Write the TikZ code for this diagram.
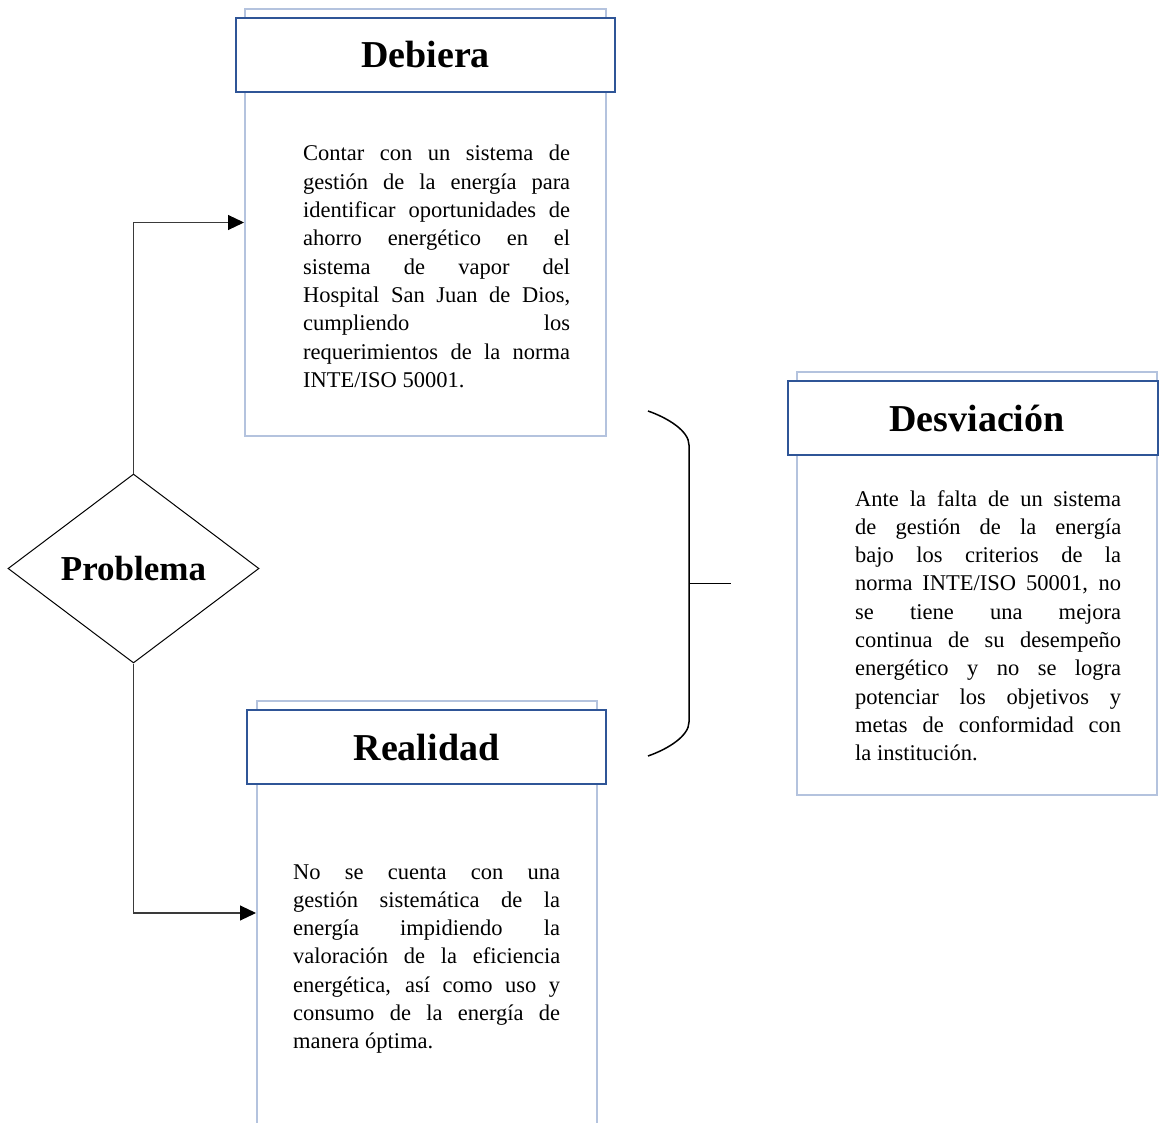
\documentclass[tikz,border=0pt]{standalone}
\usepackage{fontspec}
\setmainfont{Liberation Serif}
\usetikzlibrary{shapes.geometric,arrows.meta}

\definecolor{hdrblue}{HTML}{2F5597}
\definecolor{panelblue}{HTML}{B4C3DE}
\definecolor{linkgray}{HTML}{3A3A3A}

% one justified line of a text block
\newcommand{\jline}[1]{\makebox[\linewidth][s]{#1}\\}
\newcommand{\bodyfont}{\fontsize{22.5}{28.3}\selectfont}

\tikzset{
  panel/.style={draw=panelblue, line width=2pt, fill=white, rectangle, inner sep=0pt},
  header/.style={draw=hdrblue, line width=2.2pt, fill=white, rectangle, inner sep=0pt,
    font=\fontsize{38}{40}\selectfont\bfseries},
  bodytext/.style={anchor=base west, inner sep=0pt, font=\bodyfont},
  link/.style={draw=linkgray, line width=1.1pt,
    -{Triangle[length=16pt,width=15pt,color=black,fill=black]}},
  bracket/.style={draw=black, line width=1.5pt},
  decision/.style={draw=black, line width=1pt, diamond, inner sep=0pt,
    minimum width=251pt, minimum height=189pt, font=\fontsize{35}{37}\selectfont\bfseries},
}

\begin{document}
\begin{tikzpicture}[x=1pt, y=-1pt]
  \useasboundingbox (0,0) rectangle (1159,1123);

  % panels
  \node[panel, minimum width=361pt, minimum height=427pt] (deb) at (425.5,222.5) {};
  \node[panel, minimum width=360pt, minimum height=423pt] (desv) at (977,583.5) {};
  \node[panel, minimum width=340pt, minimum height=424pt] (rea) at (427,913) {};

  % panel headers
  \node[header, minimum width=379pt, minimum height=74pt] (debh) at (425.5,55) {Debiera};
  \node[header, minimum width=370pt, minimum height=74pt] (desvh) at (973,418) {\hspace*{8pt}Desviación};
  \node[header, minimum width=359pt, minimum height=74pt] (reah) at (426.5,747) {Realidad};

  % panel texts
  \node[bodytext] (debt) at (303,161) {\parbox[t]{267pt}{\bodyfont
    \jline{Contar con un sistema de}
    \jline{gestión de la energía para}
    \jline{identificar oportunidades de}
    \jline{ahorro energético en el}
    \jline{sistema de vapor del}
    \jline{Hospital San Juan de Dios,}
    \jline{cumpliendo los}
    \jline{requerimientos de la norma}
    INTE/ISO 50001.}};

  \node[bodytext] (desvt) at (855,506) {\parbox[t]{266pt}{\bodyfont
    \jline{Ante la falta de un sistema}
    \jline{de gestión de la energía}
    \jline{bajo los criterios de la}
    \jline{norma INTE/ISO 50001, no}
    \jline{se tiene una mejora}
    \jline{continua de su desempeño}
    \jline{energético y no se logra}
    \jline{potenciar los objetivos y}
    \jline{metas de conformidad con}
    la institución.}};

  \node[bodytext] (reat) at (293,879) {\parbox[t]{267pt}{\bodyfont
    \jline{No se cuenta con una}
    \jline{gestión sistemática de la}
    \jline{energía impidiendo la}
    \jline{valoración de la eficiencia}
    \jline{energética, así como uso y}
    \jline{consumo de la energía de}
    manera óptima.}};

  % decision
  \node[decision] (prob) at (133.5,568.5) {Problema};

  % connectors
  \draw[link] (prob.north) |- (deb.west);
  \draw[link] (prob.south) |- (rea.west);

  % bracket gathering both panels towards the deviation
  \coordinate (btop) at (648,411);
  \coordinate (bup) at (689,445);
  \coordinate (blow) at (689,722);
  \coordinate (bbot) at (648,756);
  \coordinate (bmid) at (689,583.5);
  \coordinate (btip) at (731,583.5);
  \draw[bracket] (btop) .. controls (668,418) and (689,431) .. (bup)
    -- (blow) .. controls (689,736) and (668,749) .. (bbot);
  \draw[bracket] (bmid) -- (btip);
\end{tikzpicture}
\end{document}
